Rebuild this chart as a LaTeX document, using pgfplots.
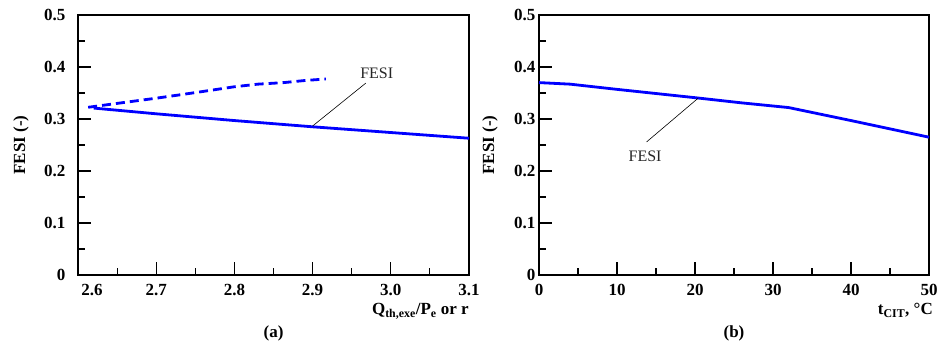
\documentclass[border=0pt]{standalone}
\usepackage{fontspec}
\setmainfont{Liberation Serif}
\usepackage{pgfplots}
\pgfplotsset{compat=1.18}
\definecolor{fblue}{RGB}{0,0,255}
\pgfplotsset{
  common/.style={
    scale only axis, height=260pt,
    ymin=0, ymax=0.5,
    ytick={0,0.1,0.2,0.3,0.4,0.5},
    yticklabels={0,0.1,0.2,0.3,0.4,0.5},
    minor ytick={0.05,0.15,0.25,0.35,0.45},
    axis line style={line width=1.8pt},
    every tick/.style={black, line width=1.1pt},
    major tick length=13pt, minor tick length=7pt,
    tick align=inside, tick pos=left,
    tick label style={font=\fontsize{17}{20}\selectfont\bfseries},
    xticklabel style={yshift=-6pt},
    /pgf/number format/assume math mode=true,
    label style={font=\fontsize{17}{20}\selectfont\bfseries},
    clip=false,
  },
}
\begin{document}
\begin{tikzpicture}
\useasboundingbox (0,0) rectangle (943pt,345pt);
% ---------------- (a)
\begin{axis}[common,
  at={(78pt,70pt)}, anchor=south west, width=391pt,
  xmin=2.6, xmax=3.1,
  xtick={2.6,2.7,2.8,2.9,3.0,3.1},
  xticklabels={\hspace{28pt}2.6,2.7,2.8,2.9,3.0,3.1},
  minor xtick={2.65,2.75,2.85,2.95,3.05},
  yticklabel style={xshift=-9pt},
  ylabel={FESI (-)},
  ylabel style={at={([xshift=-57pt]axis description cs:0,0.5)}, anchor=center, inner sep=0pt},
  xlabel={Q\textsubscript{th,exe}/P\textsubscript{e} or r},
  xlabel style={at={([yshift=-28pt]axis description cs:1,0)}, anchor=north east, inner sep=0pt},
]
\addplot[fblue, line width=2.8pt, dash pattern=on 9pt off 5pt] coordinates {
 (2.613,0.3225) (2.65,0.330) (2.70,0.340) (2.728,0.346) (2.76,0.353) (2.80,0.362) (2.83,0.367) (2.863,0.370) (2.89,0.374) (2.917,0.377)};
\addplot[fblue, line width=2.8pt] coordinates {
 (2.62,0.321) (2.70,0.310) (2.80,0.297) (2.90,0.285) (3.00,0.274) (3.10,0.263)};
\draw[black, line width=0.6pt] (axis cs:2.9,0.2865) -- (axis cs:2.968,0.369);
\node[font=\fontsize{16}{19}\selectfont, text=black!85, inner sep=0pt] at (axis cs:2.982,0.387) {FESI};
\node[font=\fontsize{17}{20}\selectfont\bfseries, inner sep=0pt] at ([yshift=-58pt]axis description cs:0.5,0) {(a)};
\end{axis}
% ---------------- (b)
\begin{axis}[common,
  at={(539pt,70pt)}, anchor=south west, width=390pt,
  xmin=0, xmax=50,
  xtick={0,10,20,30,40,50},
  xticklabels={0,10,20,30,40,50},
  minor xtick={5,15,25,35,45},
  ylabel={FESI (-)},
  ylabel style={at={([xshift=-49pt]axis description cs:0,0.5)}, anchor=center, inner sep=0pt},
  xlabel={t\textsubscript{CIT}, °C},
  xlabel style={at={([yshift=-28pt,xshift=4pt]axis description cs:1,0)}, anchor=north east, inner sep=0pt},
]
\addplot[fblue, line width=2.8pt] coordinates {
 (0,0.370) (4,0.367) (10,0.357) (20,0.341) (26,0.331) (32,0.322) (40,0.297) (50,0.265)};
\draw[black, line width=0.6pt] (axis cs:20.4,0.340) -- (axis cs:13.8,0.256);
\node[font=\fontsize{16}{19}\selectfont, text=black!85, inner sep=0pt] at (axis cs:13.6,0.229) {FESI};
\node[font=\fontsize{17}{20}\selectfont\bfseries, inner sep=0pt] at ([yshift=-58pt]axis description cs:0.5,0) {(b)};
\end{axis}
\end{tikzpicture}
\end{document}
